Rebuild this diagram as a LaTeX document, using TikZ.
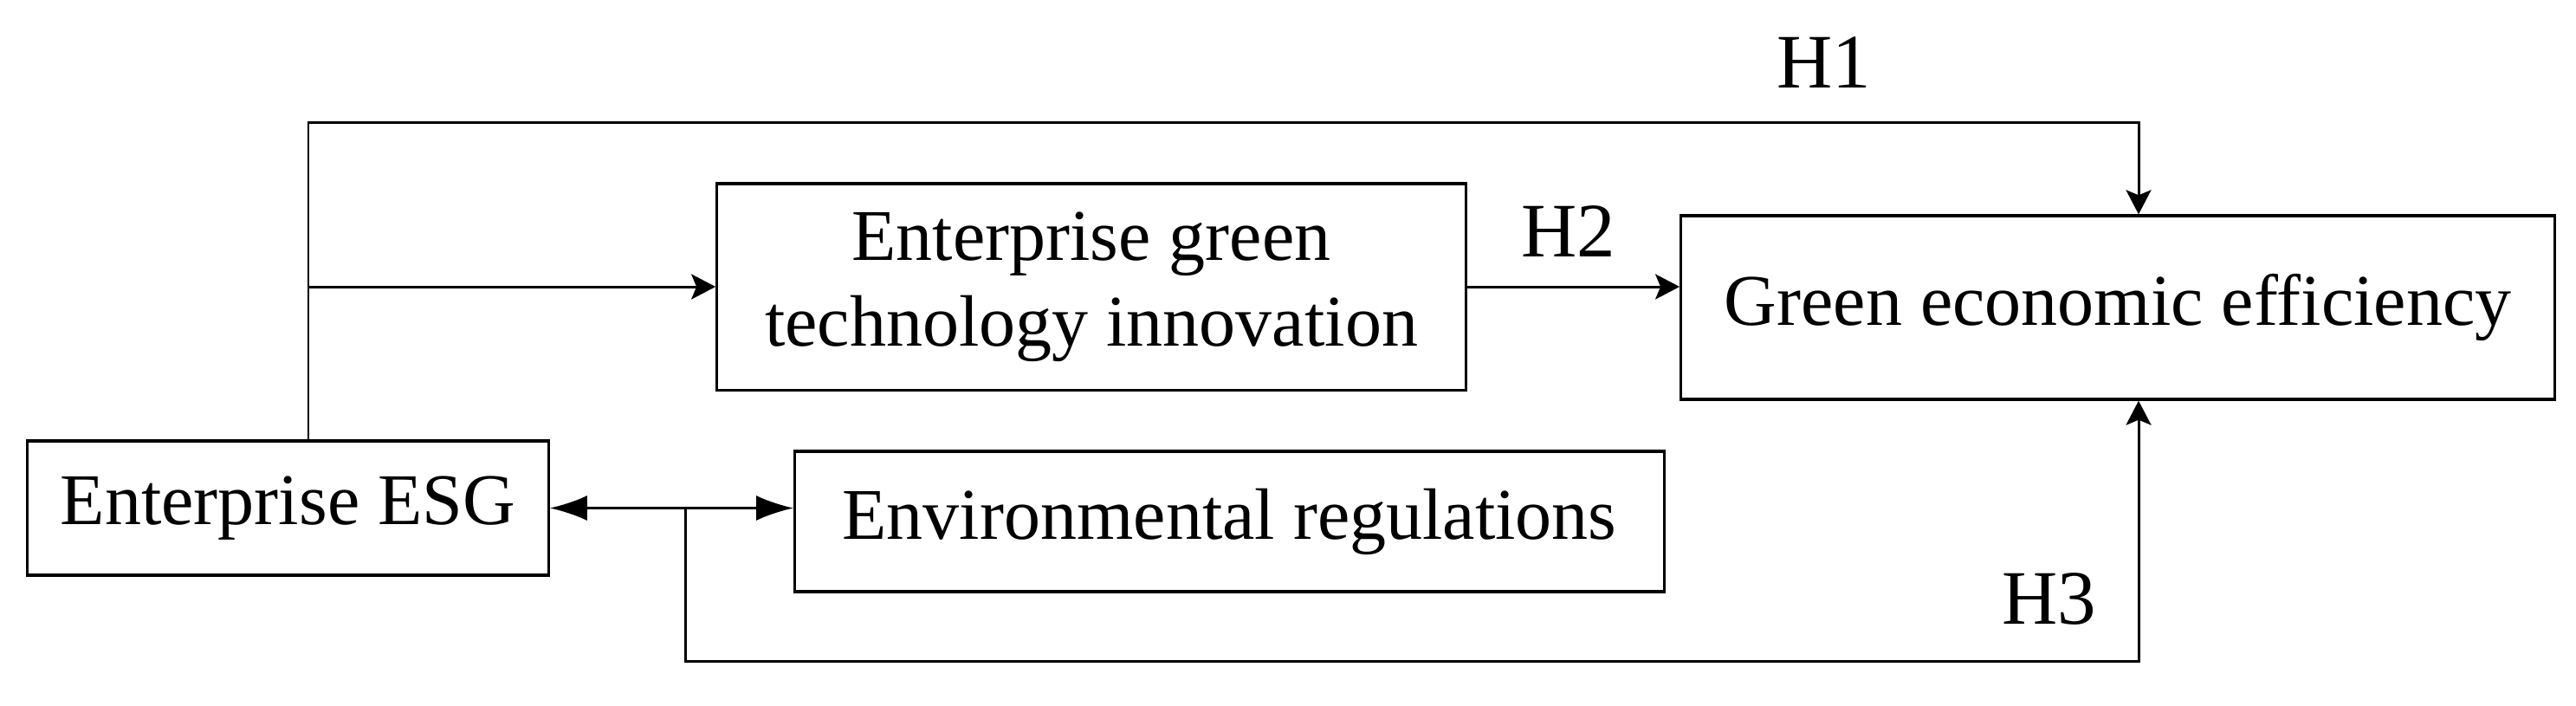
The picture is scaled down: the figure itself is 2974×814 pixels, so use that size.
\documentclass[tikz,border=0pt]{standalone}
\usepackage{fontspec}
\setmainfont{Liberation Serif}
\usetikzlibrary{arrows.meta}
\begin{document}
\begin{tikzpicture}[x=0.01cm,y=-0.01cm,line width=0.85pt,>={Stealth[length=0.28cm,width=0.29cm,inset=0.06cm]}]
	\tikzstyle{box}=[draw,line width=0.9pt,inner sep=0pt,align=center,font=\fontsize{23.9}{28.1}\selectfont];
	\tikzstyle{lab}=[inner sep=0pt,font=\fontsize{25.3}{30}\selectfont];
	\useasboundingbox (0,0) rectangle (2974,814);
	\node[box,minimum width=6.01cm,minimum height=1.55cm]  (esg)  at (332.5,586.5) {Enterprise ESG};
	\node[box,minimum width=8.64cm,minimum height=2.38cm]  (tech) at (1260,331)    {Enterprise green\\technology innovation};
	\node[box,minimum width=10.03cm,minimum height=1.62cm] (env)  at (1419.5,602)  {Environmental regulations};
	\node[box,minimum width=10.08cm,minimum height=2.12cm] (gee)  at (2445,355)    {Green economic efficiency};
	\node[lab] (h1) at (2106,72)  {H1};
	\node[lab] (h2) at (1811,267) {H2};
	\node[lab] (h3) at (2366,691) {H3};
	\coordinate (a) at (356,141);
	\coordinate (b) at (2469,141);
	\coordinate (c) at (791,763);
	\draw[->] (esg.north -| a) -- (a) -- (b) -- (gee.north -| b);
	\draw[->] (a |- tech.west) -- (tech.west);
	\draw[->] (tech.east) -- (tech.east -| gee.west);
	\draw[{Latex[length=0.43cm,width=0.29cm]}-{Latex[length=0.43cm,width=0.29cm]}] (esg.east) -- (esg.east -| env.west);
	\draw[->] (c |- esg.east) -- (c) -- (c -| b) -- (gee.south -| b);
\end{tikzpicture}
\end{document}
